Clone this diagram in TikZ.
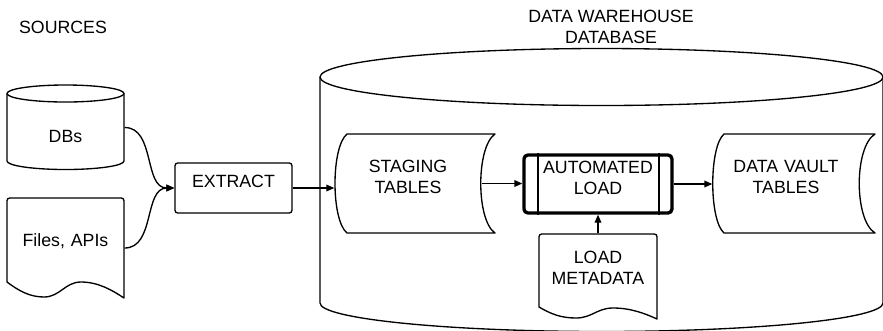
\documentclass[tikz,border=0pt]{standalone}
\usepackage{fontspec}
\setmainfont{Liberation Sans}
\usetikzlibrary{arrows.meta,fit}
\begin{document}
\begin{tikzpicture}[x=0.75pt,y=-0.75pt,
  line width=1pt, line join=round,
  txt/.style={font=\fontsize{13.3}{15.75}\selectfont, align=center, inner sep=0pt},
  frame/.style={inner sep=0pt},
  link/.style={-{Triangle[length=6pt,width=5pt]}},
]
\useasboundingbox (0,0) rectangle (883,330);
\clip (0,0) rectangle (883,330);

% ---- sources ----
\node[txt] (srctitle) at (63,27) {SOURCES};

% database cylinder
\node[frame, fit={(7,85) (124,170)}] (db) {};
\draw (65.5,93.5) ellipse [x radius=58.5, y radius=8.5];
\draw (7,93.5) -- (7,161) arc[start angle=180, end angle=0, x radius=58.5, y radius=8.5] -- (124,93.5);
\node[txt] (dblabel) at (65.5,136) {DBs};

% files document
\node[frame, fit={(7,198) (124,298)}, txt] (files) {Files, APIs};
\draw[rounded corners=2] (7,282) -- (7,198) -- (124,198) [sharp corners] -- (124,298)
  .. controls (112,290) and (98,282) .. (81,282)
  .. controls (65,282) and (60,297) .. (44,297)
  .. controls (30,297) and (19,291) .. cycle;

% extract step
\node[frame, fit={(175,163) (292,213)}, draw, rounded corners=2, txt] (extract) {EXTRACT};

% ---- warehouse database ----
\draw (601.5,77) ellipse [x radius=281.5, y radius=28.5];
\draw (320,77) -- (320,303) arc[start angle=180, end angle=0, x radius=281.5, y radius=28.5] -- (883,77);
\node[txt] (dwtitle) at (611,26.5) {DATA WAREHOUSE\\DATABASE};

% staging tables
\node[frame, fit={(335,134) (481,233)}, txt] (staging) {STAGING\\TABLES};
\draw (347,134) -- (495,134) .. controls (476,147) and (476,220) .. (495,233)
  -- (347,233) .. controls (331,220) and (331,147) .. cycle;

% automated load
\node[frame, fit={(524,155) (672,213)}, draw, line width=2.5pt, rounded corners=3, txt] (auto) {AUTOMATED\\LOAD};
\draw[line width=1.3pt] ([xshift=12pt]auto.north west) -- ([xshift=12pt]auto.south west);
\draw[line width=1.3pt] ([xshift=-11.25pt]auto.north east) -- ([xshift=-11.25pt]auto.south east);

% data vault tables
\node[frame, fit={(713,134) (859,233)}, txt] (dv) {DATA VAULT\\TABLES};
\draw (724,134) -- (875,134) .. controls (854,147) and (854,220) .. (875,233)
  -- (724,233) .. controls (709,220) and (709,147) .. cycle;

% load metadata document
\node[frame, fit={(539,234) (657,313)}, txt] (meta) {LOAD\\METADATA};
\draw[rounded corners=2] (539,307) -- (539,234) -- (657,234) [sharp corners] -- (657,319)
  .. controls (644,313) and (630,308) .. (613,308)
  .. controls (597,308) and (592,318) .. (576,318)
  .. controls (561,318) and (551,314) .. cycle;

% ---- connectors ----
\draw[link] (db.east) to[out=0, in=180] (extract.west);
\draw[link] (files.east) to[out=0, in=180] (extract.west);
\draw[link] (extract.east) -- (extract.east -| staging.west);
\draw[link] (staging.east) -- (staging.east -| auto.west);
\draw[link] (meta.north) -- (auto.south);
\draw[link] (auto.east) -- (auto.east -| dv.west);
\end{tikzpicture}
\end{document}
